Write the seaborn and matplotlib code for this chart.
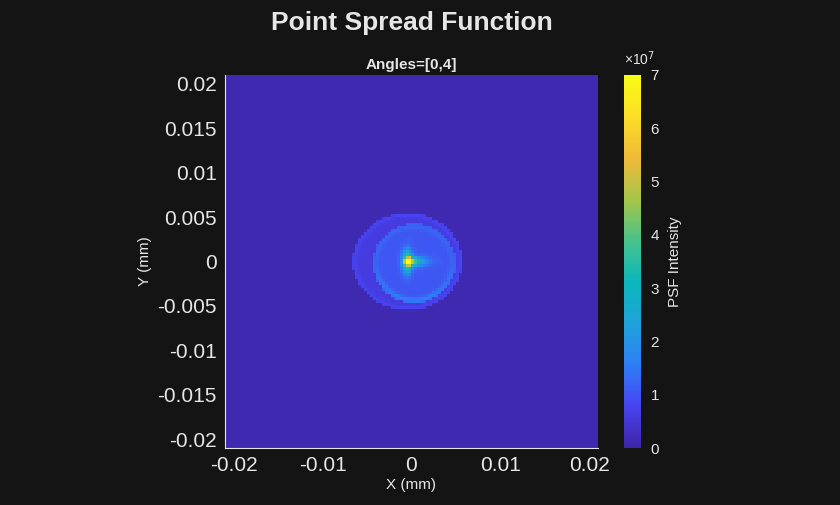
import numpy as np
import matplotlib
matplotlib.use("Agg")
import matplotlib.pyplot as plt
import seaborn as sns
from matplotlib.colors import LinearSegmentedColormap

# values (mm, intensity in units of 1e7)
extent = 0.021
n_grid = 126
background = 0.1
outer_center = (-0.00045, 0.0)
outer_radii = (0.0062, 0.0055)
outer_level = 0.6
inner_center = (0.0003, -0.0002)
inner_radii = (0.0047, 0.0045)
inner_level = 1.05
rim_level = 1.6
peak_pos = (-0.0005, 0.0)
peak_level = 7.0
arm_lengths = {"right": 0.0018, "up": 0.0012, "down": 0.0012}
arm_level = 3.8
tick_vals = [-0.02, -0.015, -0.01, -0.005, 0, 0.005, 0.01, 0.015, 0.02]
tick_text = ["-0.02", "-0.015", "-0.01", "-0.005", "0", "0.005", "0.01", "0.015", "0.02"]
x_tick_vals = [-0.02, -0.01, 0, 0.01, 0.02]
x_tick_text = ["-0.02", "-0.01", "0", "0.01", "0.02"]
cbar_ticks = [0, 1, 2, 3, 4, 5, 6, 7]

parula = LinearSegmentedColormap.from_list("parula", [
    "#3e26a8", "#4743f1", "#2e7ff6", "#1fa2dc", "#0bb7bc",
    "#47c28b", "#a5c549", "#f0ba39", "#fbde27", "#f9fb15"])

# build the image from the read parameters
c = np.linspace(-extent, extent, n_grid)
X, Y = np.meshgrid(c, c)
img = np.full(X.shape, background)
ro = np.hypot((X - outer_center[0]) / outer_radii[0], (Y - outer_center[1]) / outer_radii[1])
img = np.where(ro < 1, outer_level, img)
img += 0.2 * np.exp(-((ro - 0.96) / 0.04) ** 2)
ri = np.hypot((X - inner_center[0]) / inner_radii[0], (Y - inner_center[1]) / inner_radii[1])
bottom = np.clip(-Y / inner_radii[1], 0, 1)
img = np.where(ri < 1, inner_level, img)
img += (rim_level - inner_level) * (0.3 + 0.7 * bottom) * np.exp(-((ri - 0.93) / 0.07) ** 2) * (ri < 1.0)
dx, dy = X - peak_pos[0], Y - peak_pos[1]
w = 0.00055
img += arm_level * np.exp(-(dy / w) ** 2) * np.exp(-(dx / arm_lengths["right"]) ** 2) * (dx > 0)
img += arm_level * np.exp(-(dx / w) ** 2) * np.exp(-(dy / arm_lengths["up"]) ** 2)
img += (peak_level - arm_level) * np.exp(-(dx ** 2 + dy ** 2) / (0.0004 ** 2))
img = np.clip(img, 0, peak_level)

sns.set_style("dark")
plt.rcParams["font.family"] = ["Liberation Sans", "DejaVu Sans"]
bg = "#141414"
fg = "#e6e6e6"
fig = plt.figure(figsize=(8.4, 5.05), dpi=100, facecolor=bg)
ax = fig.add_axes([225 / 840, 1 - 448 / 505, 373 / 840, 373 / 505])
cax = fig.add_axes([624 / 840, 1 - 448 / 505, 17 / 840, 373 / 505])

sns.heatmap(img[::-1], ax=ax, cmap=parula, vmin=0, vmax=peak_level, cbar_ax=cax,
            xticklabels=False, yticklabels=False)

def pos(v):
    return (v + extent) / (2 * extent) * n_grid

ax.set_xticks([pos(v) for v in x_tick_vals])
ax.set_xticklabels(x_tick_text, rotation=0, color=fg, fontsize=15)
ax.set_yticks([n_grid - pos(v) for v in tick_vals])
ax.set_yticklabels(tick_text, rotation=0, color=fg, fontsize=15)
ax.tick_params(length=0, pad=6)
for s in ["bottom", "left"]:
    ax.spines[s].set_visible(True)
    ax.spines[s].set_color(fg)
ax.set_xlabel("X (mm)", color=fg, fontsize=11, labelpad=2)
ax.set_ylabel("Y (mm)", color=fg, fontsize=11)
ax.set_title("Angles=[0,4]", color=fg, fontsize=11, fontweight="bold", pad=4)
fig.text(0.49, 0.955, "Point Spread Function", ha="center", va="center",
         color=fg, fontsize=19, fontweight="bold")

cax.set_yticks(cbar_ticks)
cax.set_yticklabels([str(t) for t in cbar_ticks], color=fg, fontsize=11)
cax.tick_params(length=0, pad=7)
cax.set_ylabel("PSF Intensity", color=fg, fontsize=11, labelpad=6)
cax.text(0, 1.02, "×10$^{7}$", transform=cax.transAxes, color=fg, fontsize=10, va="bottom")

fig.savefig("out.png", dpi=100, facecolor=bg)
